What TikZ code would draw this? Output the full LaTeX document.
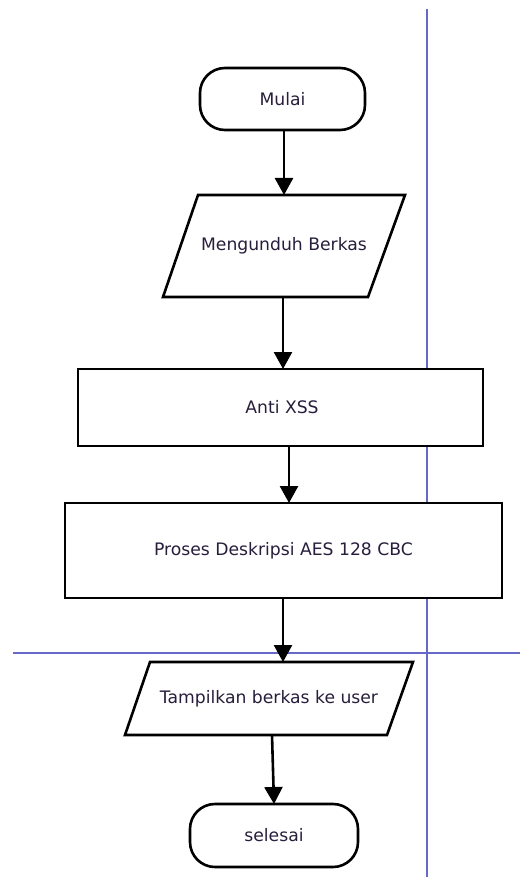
\documentclass[tikz,border=0pt]{standalone}
\usepackage{fontspec}
\setmainfont{DejaVu Sans}
\usetikzlibrary{arrows.meta}
\definecolor{guide}{RGB}{104,104,200}
\definecolor{txt}{RGB}{40,30,60}
\tikzset{
  base/.style={draw=black, line width=2.6pt, fill=white, outer sep=0pt, inner sep=0pt,
    font=\fontsize{17.2}{20}\selectfont, text=txt},
  terminal/.style={base, rectangle, rounded corners=25pt},
  procbox/.style={base, rectangle},
  iobox/.style={draw=black, line width=2.6pt, fill=white, line join=miter},
  iotext/.style={font=\fontsize{17.2}{20}\selectfont, text=txt, inner sep=0pt},
  arr/.style={draw=black, line width=2.6pt, -{Triangle[width=18pt,length=17pt]}},
  guideline/.style={draw=guide, line width=1.6pt}
}
\begin{document}
\begin{tikzpicture}[x=1pt,y=-1pt]
\useasboundingbox (0,0) rectangle (520,877);
% guide lines
\coordinate (vt) at (427,9);
\coordinate (vb) at (427,877);
\coordinate (hl) at (13,653);
\coordinate (hr) at (520,653);
\draw[guideline] (vt) -- (vb);
\draw[guideline] (hl) -- (hr);
% input/output shapes
\coordinate (u1) at (198,195); \coordinate (u2) at (405,195);
\coordinate (u3) at (368,297); \coordinate (u4) at (163,297);
\draw[iobox] (u1) -- (u2) -- (u3) -- (u4) -- cycle;
\coordinate (t1) at (150,662); \coordinate (t2) at (413,662);
\coordinate (t3) at (387,735); \coordinate (t4) at (125,735);
\draw[iobox] (t1) -- (t2) -- (t3) -- (t4) -- cycle;
\coordinate (untop) at (284,195); \coordinate (unbot) at (283,297);
\coordinate (tatop) at (283,662); \coordinate (tabot) at (272,735);
% nodes
\node[terminal, minimum width=165pt, minimum height=62pt] (mulai) at (282.5,99) {Mulai};
\node[iotext] (unduh) at (284,246) {Mengunduh Berkas};
\node[procbox, minimum width=405pt, minimum height=77pt] (xss) at (280.5,407.5) {\hspace*{3pt}Anti XSS};
\node[procbox, minimum width=437pt, minimum height=95pt] (aes) at (283.5,550.5) {Proses Deskripsi AES 128 CBC};
\node[iotext] (tampil) at (269,699) {Tampilkan berkas ke user};
\node[terminal, minimum width=168pt, minimum height=63pt] (selesai) at (274,835.5) {selesai};
% connectors
\draw[arr] ([xshift=1.5pt]mulai.south) -- (untop);
\draw[arr] (unbot) -- ([xshift=2.5pt]xss.north);
\draw[arr] ([xshift=8.5pt]xss.south) -- ([xshift=5.5pt]aes.north);
\draw[arr] ([xshift=-0.5pt]aes.south) -- (tatop);
\draw[arr] (tabot) -- (selesai.north);
\end{tikzpicture}
\end{document}
